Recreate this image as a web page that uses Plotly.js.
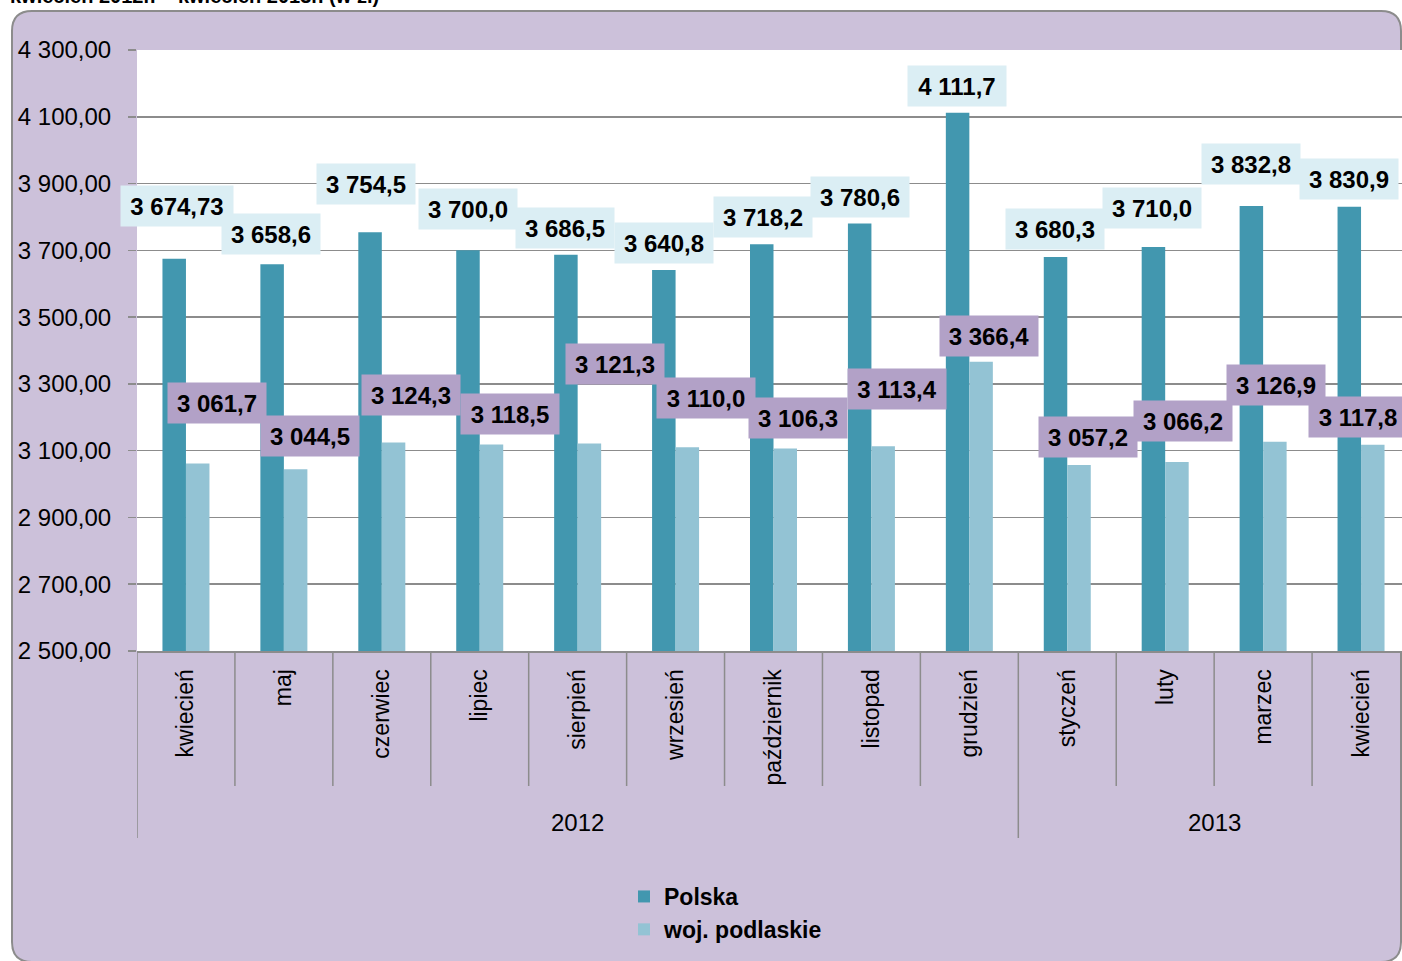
<!DOCTYPE html>
<html>
<head>
<meta charset="utf-8">
<script src="https://cdn.plot.ly/plotly-3.0.1.min.js"></script>
<style>
html, body { margin: 0; padding: 0; background: #ffffff; overflow: hidden; width: 1402px; height: 961px; }
#chart { width: 1410px; height: 961px; }
</style>
</head>
<body>
<div id="chart"></div>
<script>
// ---- data ----
const months = ['kwiecień','maj','czerwiec','lipiec','sierpień','wrzesień','październik','listopad','grudzień','styczeń','luty','marzec','kwiecień'];
const monthYears = [2012,2012,2012,2012,2012,2012,2012,2012,2012,2013,2013,2013,2013];
const polska = [3674.73, 3658.6, 3754.5, 3700.0, 3686.5, 3640.8, 3718.2, 3780.6, 4111.7, 3680.3, 3710.0, 3832.8, 3830.9];
const podlaskie = [3061.7, 3044.5, 3124.3, 3118.5, 3121.3, 3110.0, 3106.3, 3113.4, 3366.4, 3057.2, 3066.2, 3126.9, 3117.8];
const seriesNames = ['Polska', 'woj. podlaskie'];
const yTickVals = [2500, 2700, 2900, 3100, 3300, 3500, 3700, 3900, 4100, 4300];
const yTickText = ['2 500,00','2 700,00','2 900,00','3 100,00','3 300,00','3 500,00','3 700,00','3 900,00','4 100,00','4 300,00'];
const titleText = 'kwiecień 2012r. – kwiecień 2013r. (w zł)';

// ---- label placement (pixels, relative to category centre / value) ----
const polskaLabelDx = [-9,-13,-16,-12,-13,-12,-11,-11,-12,-12,-13,-12,-12];
const polskaLabelDy = [53,30,48,41,27,27,27,26,27,28,39,42,28];
const podlaskieLabelDx = [31,26,29,30,37,30,24,26,20,21,18,13,-3];
const podlaskieLabelDy = [60,33,48,30,80,49,31,57,26,28,41,57,28];

// ---- styles ----
const FONT = "'Liberation Sans', Arial, sans-serif";
const colPolska = '#4297AF';
const colPodlaskie = '#93C3D4';
const colBg = '#CCC1DA';
const colGrid = '#8c8c8c';
const colBoxPolska = '#DBEEF4';
const colBoxPodlaskie = '#B2A1C7';

const W = 1410, H = 961;
const M = {l: 137, r: 0, t: 50, b: 310};
const PW = W - M.l - M.r, PH = H - M.t - M.b;
const px = x => (x - M.l) / PW;
const py = y => 1 - (y - M.t) / PH;

function fmt(v) {
  const d = Math.abs(v * 10 - Math.round(v * 10)) > 1e-6 ? 2 : 1;
  const parts = v.toFixed(d).split('.');
  const intPart = parts[0].replace(/\B(?=(\d{3})+(?!\d))/g, ' ');
  return intPart + ',' + parts[1];
}

const idx = months.map((m, i) => i);

const traces = [
  {type: 'bar', name: seriesNames[0], x: idx, y: polska, marker: {color: colPolska}, hoverinfo: 'skip'},
  {type: 'bar', name: seriesNames[1], x: idx, y: podlaskie, marker: {color: colPodlaskie}, hoverinfo: 'skip'}
];

// frame path (rounded rect)
function framePath(x0, y0, x1, y1, r) {
  const P = (x, y) => px(x) + ',' + py(y);
  return 'M' + P(x0, y0 + r) + ' L' + P(x0, y1 - r) + ' Q' + P(x0, y1) + ' ' + P(x0 + r, y1) +
    ' L' + P(x1 - r, y1) + ' Q' + P(x1, y1) + ' ' + P(x1, y1 - r) +
    ' L' + P(x1, y0 + r) + ' Q' + P(x1, y0) + ' ' + P(x1 - r, y0) +
    ' L' + P(x0 + r, y0) + ' Q' + P(x0, y0) + ' ' + P(x0, y0 + r) + ' Z';
}

const shapes = [
  {type: 'path', xref: 'paper', yref: 'paper', path: framePath(12, 11, 1401, 962, 20),
   fillcolor: colBg, line: {color: '#8c8c8c', width: 2}, layer: 'below'},
  {type: 'rect', xref: 'paper', yref: 'paper', x0: 0, x1: 1, y0: 0, y1: 1,
   fillcolor: '#ffffff', line: {width: 0}, layer: 'below'}
];

// category dividers below the axis
for (let i = 0; i < months.length; i++) {
  const groupStart = (i === 0) || (monthYears[i] !== monthYears[i - 1]);
  shapes.push({type: 'line', xref: 'x', yref: 'paper', x0: i - 0.5, x1: i - 0.5,
    y0: 0, y1: groupStart ? py(838) : py(786), line: {color: colGrid, width: 1.5}});
}

const annotations = [];
// cut-off title at the very top
annotations.push({text: titleText, xref: 'paper', yref: 'paper', x: px(8), y: py(9),
  xanchor: 'left', yanchor: 'bottom', showarrow: false,
  font: {family: FONT, size: 20, color: '#000', weight: 'bold'}});

// year labels
const years = [...new Set(monthYears)];
years.forEach(yr => {
  const ids = idx.filter(i => monthYears[i] === yr);
  const mid = (ids[0] + ids[ids.length - 1]) / 2;
  annotations.push({text: String(yr), xref: 'x', yref: 'paper', x: mid, y: py(822),
    xanchor: 'center', yanchor: 'middle', showarrow: false,
    font: {family: FONT, size: 24, color: '#000'}});
});

// data labels
function addLabels(vals, dx, dy, bg) {
  vals.forEach((v, i) => {
    const t = fmt(v);
    annotations.push({text: t, xref: 'x', yref: 'y', x: i, y: v,
      xshift: dx[i], yshift: dy[i], xanchor: 'center', yanchor: 'middle',
      showarrow: false, bgcolor: bg, borderpad: 5, height: 30,
      width: t.length >= 8 ? 102 : 88, align: 'center', valign: 'middle',
      font: {family: FONT, size: 24, color: '#000', weight: 'bold'}});
  });
}
addLabels(polska, polskaLabelDx, polskaLabelDy, colBoxPolska);
addLabels(podlaskie, podlaskieLabelDx, podlaskieLabelDy, colBoxPodlaskie);

const layout = {
  width: W, height: H,
  margin: {l: M.l, r: M.r, t: M.t, b: M.b, pad: 0},
  paper_bgcolor: '#ffffff',
  plot_bgcolor: 'rgba(0,0,0,0)',
  font: {family: FONT, color: '#000'},
  barmode: 'group', bargap: 0.52, bargroupgap: 0,
  showlegend: true,
  legend: {orientation: 'v', x: px(624), xanchor: 'left', y: py(875), yanchor: 'top',
    bgcolor: 'rgba(0,0,0,0)', font: {family: FONT, size: 23, color: '#000', weight: 'bold'},
    traceorder: 'normal', itemwidth: 30, tracegroupgap: 0},
  xaxis: {type: 'linear', range: [-0.5, months.length - 0.5], tickmode: 'array',
    tickvals: idx, ticktext: months, tickangle: -90, showgrid: false, zeroline: false,
    showline: true, linecolor: colGrid, linewidth: 2, ticks: '', ticklabelstandoff: 7,
    tickfont: {family: FONT, size: 23, color: '#000'}, fixedrange: true},
  yaxis: {range: [2500, 4300], tickmode: 'array', tickvals: yTickVals, ticktext: yTickText,
    showgrid: true, gridcolor: colGrid, gridwidth: 1.5, zeroline: false, showline: false,
    ticks: 'outside', ticklen: 8, tickwidth: 1.5, tickcolor: colGrid, ticklabelstandoff: 12,
    tickfont: {family: FONT, size: 24, color: '#000'}, fixedrange: true},
  shapes: shapes,
  annotations: annotations
};

Plotly.newPlot('chart', traces, layout, {displayModeBar: false, staticPlot: true});
</script>
</body>
</html>
